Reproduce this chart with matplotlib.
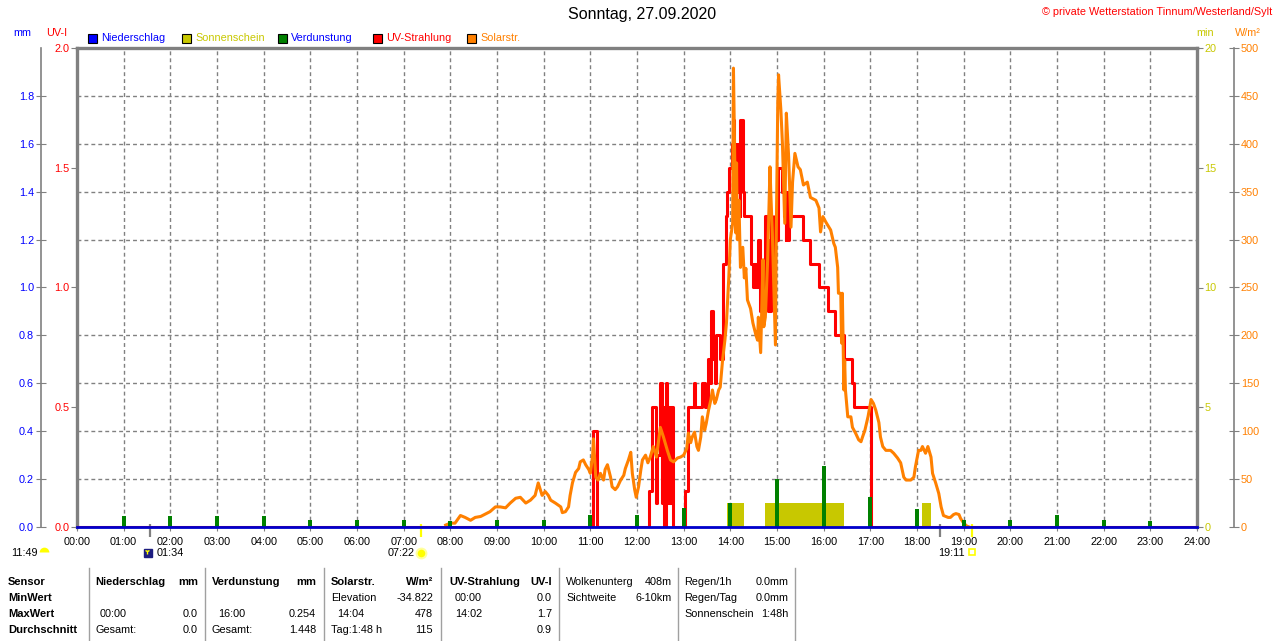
import matplotlib
matplotlib.use("Agg")
import numpy as np
import matplotlib.pyplot as plt
import matplotlib.transforms as mtrans
from matplotlib.patches import Rectangle
from matplotlib.lines import Line2D
from matplotlib.ticker import MultipleLocator, FixedLocator, FormatStrFormatter

plt.rcParams['font.family'] = ['Liberation Sans', 'DejaVu Sans']

# ---------------- data ----------------
TITLE = "Sonntag, 27.09.2020"
COPYRIGHT = "\u00a9 private Wetterstation Tinnum/Westerland/Sylt"

hour_ticks = list(range(25))
hour_labels = ["%02d:00" % h for h in hour_ticks]

legend_names = ["Niederschlag", "Sonnenschein", "Verdunstung", "UV-Strahlung", "Solarstr."]
legend_colors = ["#0000FF", "#C8C800", "#008000", "#FF0000", "#FF8000"]
legend_text_colors = ["#0000FF", "#C8C800", "#0000FF", "#FF0000", "#FF8000"]

# Niederschlag (mm) per hour
nied_hours = list(range(25))
nied_mm = [0.0, 0.0, 0.0, 0.0, 0.0, 0.0, 0.0, 0.0, 0.0, 0.0, 0.0, 0.0, 0.0,
           0.0, 0.0, 0.0, 0.0, 0.0, 0.0, 0.0, 0.0, 0.0, 0.0, 0.0, 0.0]

# Verdunstung (mm) per hour
verd_hours = [1, 2, 3, 4, 5, 6, 7, 8, 9, 10, 11, 12, 13, 14, 15, 16, 17, 18, 19, 20, 21, 22, 23]
verd_mm = [0.047, 0.047, 0.047, 0.047, 0.03, 0.03, 0.03, 0.026, 0.03, 0.03, 0.05, 0.05,
           0.08, 0.10, 0.20, 0.254, 0.125, 0.075, 0.03, 0.03, 0.05, 0.03, 0.025]

# Sonnenschein (min) intervals
sun_start = ["13:56", "14:45", "18:07"]
sun_end = ["14:17", "16:26", "18:18"]
sun_min = [1.0, 1.0, 1.0]

# UV index (step series, minutes since midnight)
uv_minutes = [0, 663, 669, 736, 739, 744, 745, 746, 749, 752, 753, 754, 755, 757, 758, 759, 761, 763, 764, 766,
              782, 785, 793, 795, 804, 808, 811, 813, 815, 818, 820, 822, 827, 830, 831, 834, 836, 838, 842, 844,
              845, 847, 848, 849, 851, 852, 853, 856, 857,
              866, 869, 870, 873, 875, 876, 878, 880, 882, 883, 885, 887, 888, 889, 892, 894, 897, 899, 901, 906,
              909, 911, 912, 914, 915,
              934, 942, 954, 966, 975, 986, 997, 999, 1021, 1440]
uv_index = [0, 0.4, 0, 0.15, 0.5, 0.3, 0.1, 0.3, 0.6, 0.1, 0.3, 0.5, 0.0, 0.6, 0.3, 0.1, 0.5, 0.1, 0.5, 0,
            0.15, 0.5, 0.6, 0.5, 0.6, 0.5, 0.7, 0.6, 0.9, 0.7, 0.6, 0.8, 0.7, 0.9, 1.1, 1.3, 1.4, 1.5, 1.6, 1.7,
            1.5, 1.4, 1.6, 1.4, 1.5, 1.3, 1.7, 1.4, 1.3,
            1.1, 1.0, 1.1, 1.0, 1.1, 1.2, 0.9, 1.1, 0.9, 1.0, 1.3, 1.0, 1.2, 0.9, 1.3, 1.1, 1.3, 1.2, 1.5, 1.4,
            1.3, 1.2, 1.4, 1.2, 1.3,
            1.2, 1.1, 1.0, 0.9, 0.8, 0.7, 0.6, 0.5, 0, 0]

# Solar radiation (W/m2), minutes since midnight
solar_minutes = [474, 480, 486, 493, 499, 506, 512, 519, 531, 538, 544, 551, 557, 564, 570, 577, 583, 589, 593, 598,
                 602, 606, 609, 615, 622, 624, 628, 632, 634, 637, 641, 645, 647, 651, 654, 658, 660, 663, 664, 667,
                 670, 673, 677, 679, 682, 686, 688, 692, 695, 699, 703, 705, 709, 712, 714, 717, 719, 722, 725, 727,
                 731, 734, 737, 741, 745, 750, 754, 759, 763, 767, 772, 776, 780, 784, 786, 789, 791, 794, 797, 799,
                 802, 804, 807, 809, 812, 815, 817, 820, 822, 825, 827, 830, 833, 835, 838, 840, 843, 844, 845, 847,
                 848, 849, 851, 853, 856, 858, 860, 862, 866, 869, 873, 875, 876, 879, 882, 883, 885, 888, 891, 892,
                 894, 898, 899, 901, 902, 905, 907, 910, 912, 915, 918, 920, 923, 927, 930, 934, 939, 943, 950, 954,
                 956, 959, 963, 969, 973, 975, 978, 979, 982, 983, 984, 986, 987, 988, 991, 995, 997, 1001, 1005, 1008,
                 1010, 1013, 1017, 1021, 1024, 1027, 1031, 1033, 1036, 1040, 1046, 1050, 1055, 1059, 1063, 1066, 1072,
                 1076, 1078, 1082, 1085, 1087, 1091, 1094, 1098, 1100, 1104, 1108, 1111, 1114, 1120, 1123, 1127, 1130,
                 1134, 1136, 1140, 1144, 1147]
solar_wm2 = [2, 4, 4, 12, 10, 7, 10, 11, 16, 21, 21, 20, 25, 30, 31, 25, 28, 33, 46, 33,
             37, 33, 28, 25, 21, 15, 16, 21, 33, 46, 57, 61, 68, 70, 65, 60, 56, 75, 92, 52,
             49, 56, 49, 60, 65, 52, 42, 39, 42, 49, 54, 61, 70, 78, 56, 39, 31, 42, 60, 70,
             75, 67, 73, 84, 73, 104, 94, 80, 70, 68, 72, 73, 75, 82, 98, 88, 94, 99, 84, 80,
             94, 115, 101, 108, 122, 133, 143, 129, 133, 143, 146, 174, 195, 213, 260, 300, 317, 479, 420, 307,
             380, 300, 341, 271, 292, 260, 270, 237, 228, 213, 200, 195, 219, 182, 279, 209, 219, 279, 376, 349,
             307, 190, 300, 443, 472, 435, 400, 317, 432, 386, 313, 360, 390, 376, 373, 357, 360, 344, 341, 333,
             308, 324, 318, 310, 296, 292, 271, 244, 244, 192, 244, 143, 174, 143, 115, 115, 104, 98, 91, 89,
             94, 101, 115, 133, 129, 122, 109, 94, 84, 80, 80, 77, 72, 67, 52, 49, 49,
             52, 63, 80, 80, 84, 77, 84, 73, 56, 46, 35, 21, 12, 10, 10, 13, 14,
             13, 9, 4, 1, 0]

# astronomical events
day_length = "11:49"
sunrise = "07:22"
sunset = "19:11"
moon_event = "01:34"
moon_event2 = "18:30"

# statistics table
row_labels = ["Sensor", "MinWert", "MaxWert", "Durchschnitt"]
stat_cells = [
    # (column x, row, text, align, bold)
    (95, 0, "Niederschlag", "left", True), (198, 0, "mm", "right", True),
    (212, 0, "Verdunstung", "left", True), (316, 0, "mm", "right", True),
    (331, 0, "Solarstr.", "left", True), (433, 0, "W/m\u00b2", "right", True),
    (449, 0, "UV-Strahlung", "left", True), (552, 0, "UV-I", "right", True),
    (566, 0, "Wolkenunterg", "left", False), (672, 0, "408m", "right", False),
    (684, 0, "Regen/1h", "left", False), (789, 0, "0.0mm", "right", False),
    (331, 1, "Elevation", "left", False), (433, 1, "-34.822", "right", False),
    (455, 1, "00:00", "left", False), (552, 1, "0.0", "right", False),
    (566, 1, "Sichtweite", "left", False), (672, 1, "6-10km", "right", False),
    (684, 1, "Regen/Tag", "left", False), (789, 1, "0.0mm", "right", False),
    (100, 2, "00:00", "left", False), (198, 2, "0.0", "right", False),
    (218, 2, "16:00", "left", False), (316, 2, "0.254", "right", False),
    (337, 2, "14:04", "left", False), (433, 2, "478", "right", False),
    (455, 2, "14:02", "left", False), (552, 2, "1.7", "right", False),
    (684, 2, "Sonnenschein", "left", False), (789, 2, "1:48h", "right", False),
    (95, 3, "Gesamt:", "left", False), (198, 3, "0.0", "right", False),
    (212, 3, "Gesamt:", "left", False), (316, 3, "1.448", "right", False),
    (331, 3, "Tag:1:48 h", "left", False), (433, 3, "115", "right", False),
    (552, 3, "0.9", "right", False),
]
row_y = [582, 598, 614, 630]
separator_x = [89, 205, 324, 441, 559, 678, 795]


def to_hours(s):
    h, m = s.split(":")
    return int(h) + int(m) / 60.0


# ---------------- figure ----------------
W, H = 1280, 641
L, R, B, T = 77, 1197, 527, 48
fig = plt.figure(figsize=(W / 100, H / 100), dpi=100, facecolor="white")
FS = 7.8
GREY = "#808080"
OLIVE = "#C8C800"
ORANGE = "#FF8000"


def ftext(x, y, s, ha="left", color="black", size=FS, weight="normal"):
    fig.text(x / W, 1 - y / H, s, ha=ha, va="center", color=color, fontsize=size, fontweight=weight)


ax = fig.add_axes([L / W, 1 - B / H, (R - L) / W, (B - T) / H])  # sunshine (min)
ax_uv = ax.twinx()
ax_sol = ax.twinx()
ax_mm = ax.twinx()

# sunshine bars
s0 = [to_hours(s) for s in sun_start]
s1 = [to_hours(s) for s in sun_end]
ax.bar(s0, sun_min, width=[b - a for a, b in zip(s0, s1)], align="edge", color=OLIVE,
       linewidth=0, zorder=2)
ax.set_ylim(0, 20)
ax.set_xlim(0, 24)
ax.set_axisbelow(True)

# UV
ax_uv.plot(np.array(uv_minutes) / 60.0, uv_index, drawstyle="steps-post", color="#FF0000", lw=2.2)
ax_uv.set_ylim(0, 2)

# Solar
ax_sol.plot(np.array(solar_minutes) / 60.0, solar_wm2, color=ORANGE, lw=2.2)
ax_sol.set_ylim(0, 500)

# Verdunstung + Niederschlag
ax_mm.bar(verd_hours, verd_mm, width=0.09, color="#008000", linewidth=0)
ax_mm.plot(nied_hours, nied_mm, color="#0000CC", lw=2.0, clip_on=False, zorder=5)
ax_mm.set_ylim(0, 2)

for a in (ax, ax_uv, ax_sol, ax_mm):
    a.set_xlim(0, 24)

# host axis: frame, grid, x ticks, min ticks (right)
ax.set_xticks(hour_ticks)
ax.set_xticklabels(hour_labels)
ax.tick_params(axis="x", length=3, color=GREY, pad=4.5, labelsize=FS)
ax.yaxis.tick_right()
ax.yaxis.set_major_locator(FixedLocator([0, 5, 10, 15, 20]))
ax.yaxis.set_minor_locator(MultipleLocator(2))
ax.tick_params(axis="y", which="major", length=4, color=GREY, pad=1.5, labelsize=FS, labelcolor=OLIVE)
ax.tick_params(axis="y", which="minor", length=0)
ax.grid(True, axis="x", which="major", color=GREY, lw=1.0, ls=(0, (2.8, 2.2)))
ax.grid(True, axis="y", which="minor", color=GREY, lw=1.0, ls=(0, (2.8, 2.2)))
for s in ("left", "top", "right"):
    ax.spines[s].set_color(GREY)
    ax.spines[s].set_linewidth(2.4)
ax.spines["bottom"].set_color(GREY)
ax.spines["bottom"].set_linewidth(1)

# UV axis on left frame
for s in ax_uv.spines.values():
    s.set_visible(False)
ax_uv.yaxis.tick_left()
ax_uv.yaxis.set_major_locator(FixedLocator([0, 0.5, 1.0, 1.5, 2.0]))
ax_uv.yaxis.set_major_formatter(FormatStrFormatter("%.1f"))
ax_uv.tick_params(axis="y", length=4, color=GREY, pad=1.5, labelsize=FS, labelcolor="#FF0000")

# Solar axis far right
for s in ax_sol.spines.values():
    s.set_visible(False)
ax_sol.spines["right"].set_visible(True)
ax_sol.spines["right"].set_position(("axes", (1234 - L) / (R - L)))
ax_sol.spines["right"].set_color(GREY)
ax_sol.spines["right"].set_linewidth(1.2)
ax_sol.yaxis.tick_right()
ax_sol.yaxis.set_major_locator(MultipleLocator(50))
ax_sol.tick_params(axis="y", direction="inout", length=7, color=GREY, pad=1.5, labelsize=FS,
                   labelcolor=ORANGE)

# mm axis far left
for s in ax_mm.spines.values():
    s.set_visible(False)
ax_mm.spines["left"].set_visible(True)
ax_mm.spines["left"].set_position(("axes", (41 - L) / (R - L)))
ax_mm.spines["left"].set_color(GREY)
ax_mm.spines["left"].set_linewidth(1.2)
ax_mm.yaxis.tick_left()
ax_mm.yaxis.set_major_locator(FixedLocator([0, 0.2, 0.4, 0.6, 0.8, 1.0, 1.2, 1.4, 1.6, 1.8]))
ax_mm.yaxis.set_major_formatter(FormatStrFormatter("%.1f"))
ax_mm.tick_params(axis="y", direction="inout", length=7, color=GREY, pad=1.5, labelsize=FS,
                  labelcolor="#0000FF")

# ---------------- event markers below x axis ----------------
xt = ax.get_xaxis_transform()
pxy = 1.0 / (B - T)
for tstr, col in ((moon_event, GREY), (moon_event2, GREY), (sunrise, "#FFFF00"), (sunset, "#FFFF00")):
    tt = to_hours(tstr)
    ax.plot([tt, tt], [3 * pxy, -10 * pxy], transform=xt, clip_on=False, color=col, lw=1.6,
            solid_capstyle="butt", zorder=10)


def icon_transform(dx, dy):
    return mtrans.offset_copy(xt, fig=fig, x=dx, y=dy, units="dots")


tm = to_hours(moon_event)
ax.annotate(moon_event, xy=(tm, 0), xycoords=xt, xytext=(7, -26), textcoords="offset pixels",
            ha="left", va="center", fontsize=FS, annotation_clip=False)
ax.plot([tm], [0], transform=icon_transform(-2, -26), marker="s", ms=6, color="#1C1C80",
        clip_on=False, zorder=11)
ax.plot([tm], [0], transform=icon_transform(-3, -24), marker="1", ms=4, color="#FFFF00",
        clip_on=False, zorder=12)

tr = to_hours(sunrise)
ax.annotate(sunrise, xy=(tr, 0), xycoords=xt, xytext=(-6, -26), textcoords="offset pixels",
            ha="right", va="center", fontsize=FS, annotation_clip=False)
ax.plot([tr], [0], transform=icon_transform(0, -26), marker="o", ms=7, mfc="#FFFF00", mec="#FFFFA0",
        mew=1.5, clip_on=False, zorder=11)

ts = to_hours(sunset)
ax.annotate(sunset, xy=(ts, 0), xycoords=xt, xytext=(-7, -26), textcoords="offset pixels",
            ha="right", va="center", fontsize=FS, annotation_clip=False)
ax.plot([ts], [0], transform=icon_transform(0, -25), marker="s", ms=4.5, mfc="none", mec="#FFFF00",
        mew=1.2, clip_on=False, zorder=11)

ftext(11, 553, day_length)
fig.add_artist(Line2D([44 / W], [1 - 552 / H], marker="o", ms=7, color="#FFFF00", fillstyle="top",
                      mfc="#FFFF00", mfcalt="none", mec="none", transform=fig.transFigure))

# ---------------- titles / labels / legend ----------------
ftext(642, 15, TITLE, ha="center", size=11.5)
ftext(1272, 12, COPYRIGHT, ha="right", color="#FF0000", size=FS)
ftext(22, 33, "mm", ha="center", color="#0000FF")
ftext(57, 33, "UV-I", ha="center", color="#FF0000")
ftext(1205, 33, "min", ha="center", color=OLIVE)
ftext(1248, 33, "W/m\u00b2", ha="center", color=ORANGE)

leg_x = [88, 182, 278, 373, 467]
for x0, name, c, tc in zip(leg_x, legend_names, legend_colors, legend_text_colors):
    fig.add_artist(Rectangle((x0 / W, 1 - 43 / H), 9 / W, 9 / H, transform=fig.transFigure,
                             facecolor=c, edgecolor="black", lw=0.8))
    ftext(x0 + 13, 38, name, color=tc)

# ---------------- statistics table ----------------
for i, lab in enumerate(row_labels):
    ftext(8, row_y[i], lab, weight="bold", size=8)
for (cx, r, s, ha, bold) in stat_cells:
    ftext(cx, row_y[r], s, ha=ha, weight="bold" if bold else "normal", size=8 if bold else FS)
for sx in separator_x:
    fig.add_artist(Line2D([sx / W, sx / W], [1 - 568 / H, 0], color="#A0A0A0", lw=1,
                          transform=fig.transFigure))

fig.savefig("out.png", dpi=100, facecolor="white")
